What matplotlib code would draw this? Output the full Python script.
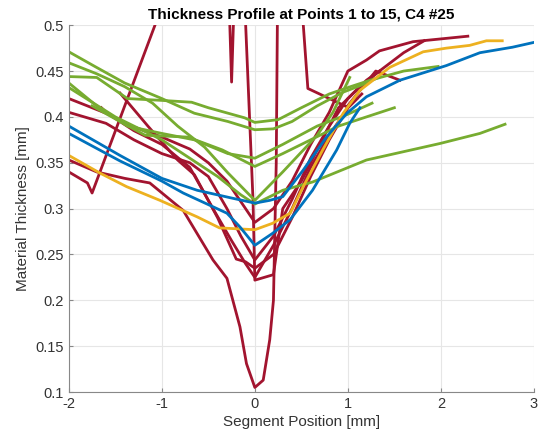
import matplotlib
matplotlib.use('Agg')
import matplotlib.pyplot as plt

plt.rcParams['font.family'] = ['Liberation Sans', 'DejaVu Sans']

BLUE = '#0072BD'
ORANGE = '#EDB120'
GREEN = '#77AC30'
RED = '#A2142F'

# ---- data (mm) ----
blue_a_x = [-2, -1.45, -1.0, -0.62, -0.27, 0, 0.16, 0.3, 0.52, 0.77, 0.99, 1.2, 1.56, 2.06, 2.42, 2.77, 2.99]
blue_a_y = [0.39, 0.358, 0.333, 0.32, 0.312, 0.306, 0.309, 0.313, 0.342, 0.378, 0.404, 0.422, 0.44, 0.456, 0.47, 0.476, 0.481]
blue_b_x = [-2, -1.45, -1.0, -0.77, -0.3, -0.16, 0, 0.19, 0.38, 0.62, 0.88, 1.02, 1.13]
blue_b_y = [0.382, 0.352, 0.33, 0.317, 0.295, 0.28, 0.26, 0.273, 0.288, 0.32, 0.364, 0.393, 0.41]

orange_x = [-2, -1.67, -1.38, -1.02, -0.62, -0.38, 0, 0.19, 0.38, 0.52, 0.73, 0.95, 1.13, 1.45, 1.81, 2.06, 2.31, 2.49, 2.66]
orange_y = [0.358, 0.339, 0.324, 0.309, 0.291, 0.279, 0.277, 0.284, 0.295, 0.324, 0.364, 0.404, 0.429, 0.454, 0.471, 0.475, 0.478, 0.483, 0.483]

green_a_x = [-2, -1.7, -1.37, -1.0, -0.68, -0.5, -0.11, 0, 0.25, 0.5, 0.8, 1.03, 1.24, 1.6, 1.97]
green_a_y = [0.444, 0.443, 0.42, 0.418, 0.416, 0.41, 0.399, 0.394, 0.397, 0.41, 0.425, 0.433, 0.44, 0.45, 0.455]
green_b_x = [-2, -1.72, -1.4, -1.0, -0.65, -0.29, 0, 0.2, 0.4, 0.67, 0.95, 1.13, 1.35]
green_b_y = [0.471, 0.455, 0.437, 0.42, 0.404, 0.395, 0.386, 0.387, 0.395, 0.412, 0.427, 0.434, 0.444]
green_c_x = [-2, -1.7, -1.4, -1.1, -0.83, -0.54, -0.29, 0, 0.3, 0.67, 0.84, 1.02]
green_c_y = [0.459, 0.447, 0.433, 0.415, 0.39, 0.367, 0.339, 0.309, 0.34, 0.38, 0.405, 0.443]
green_d_x = [-2, -1.7, -1.37, -1.0, -0.65, -0.29, 0, 0.3, 0.67, 0.98, 1.26]
green_d_y = [0.437, 0.412, 0.39, 0.382, 0.375, 0.36, 0.355, 0.37, 0.39, 0.402, 0.415]
green_e_x = [-1.75, -1.45, -1.18, -0.72, -0.35, 0, 0.3, 0.6, 0.9, 1.2, 1.5]
green_e_y = [0.412, 0.395, 0.38, 0.378, 0.364, 0.346, 0.36, 0.375, 0.39, 0.4, 0.41]
green_f_x = [-2, -1.5, -1.0, -0.7, -0.4, -0.15, 0, 0.3, 0.62, 1.2, 1.99, 2.42, 2.69]
green_f_y = [0.432, 0.4, 0.375, 0.355, 0.335, 0.315, 0.305, 0.32, 0.329, 0.353, 0.371, 0.382, 0.392]

red_a_x = [-2, -1.6, -1.3, -1.0, -0.7, -0.5, -0.3, -0.1, 0, 0.2, 0.4, 0.6, 0.8, 1.0, 1.2, 1.34, 1.7, 2.29]
red_a_y = [0.42, 0.404, 0.389, 0.378, 0.365, 0.35, 0.33, 0.3, 0.285, 0.3, 0.33, 0.37, 0.405, 0.45, 0.462, 0.472, 0.482, 0.488]
red_b_x = [-2, -1.6, -1.3, -1.0, -0.7, -0.5, -0.3, -0.15, 0, 0.2, 0.4, 0.6, 0.8, 1.0, 1.2, 1.34]
red_b_y = [0.405, 0.393, 0.375, 0.36, 0.35, 0.335, 0.3, 0.27, 0.244, 0.27, 0.31, 0.355, 0.39, 0.42, 0.44, 0.45]
red_c_x = [-1.65, -1.6, -1.3, -1.0, -0.7, -0.45, -0.25, -0.1, 0, 0.2, 0.4, 0.6, 0.8, 1.0, 1.15]
red_c_y = [0.41, 0.405, 0.385, 0.37, 0.345, 0.3, 0.265, 0.24, 0.225, 0.26, 0.3, 0.345, 0.38, 0.41, 0.425]
red_d_x = [-1.45, -1.4, -1.15, -0.83, -0.65, -0.4, -0.2, -0.1, 0, 0.2, 0.4, 0.6, 0.8, 1.0, 1.1]
red_d_y = [0.426, 0.42, 0.39, 0.353, 0.337, 0.29, 0.245, 0.242, 0.235, 0.25, 0.29, 0.335, 0.375, 0.41, 0.42]
red_spike_x = [-2, -1.8, -1.75, -1.0, -0.6, -0.3, -0.25, -0.2, -0.14, -0.02, 0, 0.2, 0.3, 0.5, 0.7, 0.9, 1.1, 1.34, 1.6, 1.82]
red_spike_y = [0.34, 0.328, 0.317, 0.52, 0.6, 0.6, 0.438, 0.6, 0.6, 0.31, 0.222, 0.228, 0.3, 0.33, 0.37, 0.41, 0.43, 0.45, 0.47, 0.483]
red_deep_x = [-2, -1.7, -1.4, -1.13, -0.77, -0.45, -0.3, -0.16, -0.09, 0, 0.09, 0.16, 0.2, 0.23, 0.25, 0.45, 0.57, 0.99, 1.1, 1.3, 1.56]
red_deep_y = [0.353, 0.34, 0.333, 0.328, 0.298, 0.244, 0.224, 0.171, 0.131, 0.105, 0.113, 0.157, 0.2, 0.35, 0.6, 0.6, 0.431, 0.411, 0.425, 0.45, 0.44]

series = [
    (red_spike_x, red_spike_y, RED),
    (red_deep_x, red_deep_y, RED),
    (red_a_x, red_a_y, RED),
    (red_b_x, red_b_y, RED),
    (red_c_x, red_c_y, RED),
    (red_d_x, red_d_y, RED),
    (green_a_x, green_a_y, GREEN),
    (green_b_x, green_b_y, GREEN),
    (green_c_x, green_c_y, GREEN),
    (green_d_x, green_d_y, GREEN),
    (green_e_x, green_e_y, GREEN),
    (green_f_x, green_f_y, GREEN),
    (orange_x, orange_y, ORANGE),
    (blue_a_x, blue_a_y, BLUE),
    (blue_b_x, blue_b_y, BLUE),
]

fig = plt.figure(figsize=(5.42, 4.42), dpi=100)
ax = fig.add_axes([0.127, 0.113, 0.858, 0.830])

for x, y, c in series:
    ax.plot(x, y, color=c, lw=2.0, solid_joinstyle='round')

ax.set_xlim(-2, 3)
ax.set_ylim(0.1, 0.5)
ax.set_xticks([-2, -1, 0, 1, 2, 3])
ax.set_xticklabels(['-2', '-1', '0', '1', '2', '3'])
ax.set_yticks([0.1, 0.15, 0.2, 0.25, 0.3, 0.35, 0.4, 0.45, 0.5])
ax.set_yticklabels(['0.1', '0.15', '0.2', '0.25', '0.3', '0.35', '0.4', '0.45', '0.5'])
ax.grid(True, color='#e6e6e6', lw=0.8)
ax.set_axisbelow(True)
for s in ax.spines.values():
    s.set_color('#888888')
    s.set_linewidth(0.8)
ax.spines['top'].set_visible(False)
ax.spines['right'].set_visible(False)
ax.tick_params(direction='in', length=3, colors='#888888', labelcolor='#333333', labelsize=10.5)

ax.set_xlabel('Segment Position [mm]', fontsize=11, color='#333333', labelpad=3)
ax.set_ylabel('Material Thickness [mm]', fontsize=11, color='#333333', labelpad=4)
ax.set_title('Thickness Profile at Points 1 to 15, C4 #25', fontsize=11, fontweight='bold', pad=5)

fig.savefig('out.png', dpi=100)
